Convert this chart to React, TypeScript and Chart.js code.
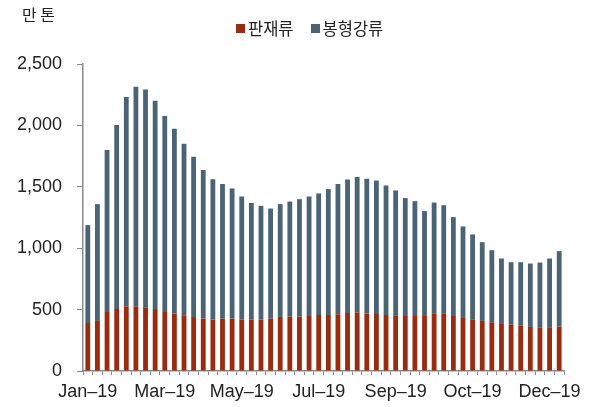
import React, { useEffect, useRef } from "react";
import { Chart, registerables } from "chart.js";

Chart.register(...registerables);

const seriesNames = ["판재류", "봉형강류"];
const seriesColors = ["#992b10", "#4a6475"];
const unitLabel = "만 톤";

// 판재류 (bottom segment)
const plateValues = [
  391, 408, 481, 505, 527, 527, 519, 505, 481, 468,
  454, 440, 427, 419, 427, 427, 419, 419, 419, 427,
  440, 443, 443, 448, 456, 456, 462, 473, 478, 468,
  465, 456, 454, 448, 448, 448, 470, 470, 448, 432,
  421, 408, 397, 383, 380, 372, 359, 356, 351, 362,
];

// 봉형강류 (top segment)
const barSteelValues = [
  797, 951, 1318, 1498, 1704, 1788, 1774, 1695, 1595, 1504,
  1396, 1304, 1209, 1143, 1095, 1059, 1002, 950, 926, 896,
  919, 937, 956, 973, 990, 1025, 1060, 1087, 1101, 1097,
  1087, 1055, 1016, 960, 935, 854, 902, 880, 805, 745,
  691, 641, 587, 533, 506, 514, 516, 527, 565, 614,
];

const xTickLabels = ["Jan–19", "Mar–19", "May–19", "Jul–19", "Sep–19", "Oct–19", "Dec–19"];
const xTickStep = 8;
const yMin = 0;
const yMax = 2500;
const yStep = 500;

const categories = plateValues.map((_, i) => `${i + 1}주`);

const AXIS_COLOR = "#8a8a8a";
const TEXT_COLOR = "#222222";
const LATIN_FONT = "'Liberation Sans', Arial, sans-serif";
const CJK_FONT = "'Noto Sans CJK KR', 'Noto Sans', sans-serif";

export default function App() {
  const canvasRef = useRef<HTMLCanvasElement | null>(null);

  useEffect(() => {
    document.body.style.margin = "0";
    const canvas = canvasRef.current;
    if (!canvas) return;
    const chart = new Chart(canvas, {
      type: "bar",
      data: {
        labels: categories,
        datasets: [
          {
            label: seriesNames[0],
            data: plateValues,
            backgroundColor: seriesColors[0],
            borderWidth: 0,
            barPercentage: 0.5,
            categoryPercentage: 1.0,
          },
          {
            label: seriesNames[1],
            data: barSteelValues,
            backgroundColor: seriesColors[1],
            borderWidth: 0,
            barPercentage: 0.5,
            categoryPercentage: 1.0,
          },
        ],
      },
      options: {
        responsive: false,
        animation: false,
        layout: { padding: { left: 0, right: 28, top: 64, bottom: 0 } },
        plugins: {
          legend: { display: false },
          tooltip: { enabled: false },
        },
        scales: {
          x: {
            stacked: true,
            offset: true,
            grid: {
              display: true,
              offset: true,
              drawOnChartArea: false,
              drawTicks: true,
              tickLength: 4,
              color: AXIS_COLOR,
              lineWidth: 1,
            },
            border: { display: true, color: AXIS_COLOR, width: 1.5 },
            ticks: {
              autoSkip: false,
              maxRotation: 0,
              minRotation: 0,
              padding: 6,
              color: TEXT_COLOR,
              font: { family: LATIN_FONT, size: 18 },
              callback: (_v: any, index: number) =>
                index % xTickStep === 0 ? xTickLabels[index / xTickStep] ?? "" : "",
            },
            afterFit: (scale: any) => {
              scale.height = 36;
            },
          },
          y: {
            stacked: true,
            min: yMin,
            max: yMax,
            grid: {
              display: true,
              drawOnChartArea: false,
              drawTicks: true,
              tickLength: 6,
              color: AXIS_COLOR,
              lineWidth: 1,
            },
            border: { display: true, color: AXIS_COLOR, width: 1.5 },
            ticks: {
              stepSize: yStep,
              padding: 15,
              color: TEXT_COLOR,
              font: { family: LATIN_FONT, size: 18 },
              callback: (v: any) => Number(v).toLocaleString("en-US"),
            },
            afterFit: (scale: any) => {
              scale.width = 83;
            },
          },
        },
      },
    });
    return () => chart.destroy();
  }, []);

  return (
    <div style={{ position: "fixed", left: 0, top: 0, width: 592, height: 407, background: "#fff" }}>
      <canvas ref={canvasRef} width={592} height={407} style={{ display: "block" }} />
      <div
        style={{
          position: "absolute",
          left: 22,
          top: 4,
          fontFamily: CJK_FONT,
          fontSize: 16,
          lineHeight: "20px",
          color: TEXT_COLOR,
          whiteSpace: "nowrap",
        }}
      >
        {unitLabel}
      </div>
      <div
        style={{
          position: "absolute",
          left: 236,
          top: 18,
          display: "flex",
          alignItems: "center",
          fontFamily: CJK_FONT,
          fontSize: 16.5,
          lineHeight: "20px",
          color: TEXT_COLOR,
          whiteSpace: "nowrap",
        }}
      >
        {seriesNames.map((name, i) => (
          <div key={name} style={{ display: "flex", alignItems: "center", marginRight: i === 0 ? 17 : 0 }}>
            <span style={{ display: "inline-block", width: 9, height: 9, background: seriesColors[i], marginRight: 3 }} />
            <span>{name}</span>
          </div>
        ))}
      </div>
    </div>
  );
}
